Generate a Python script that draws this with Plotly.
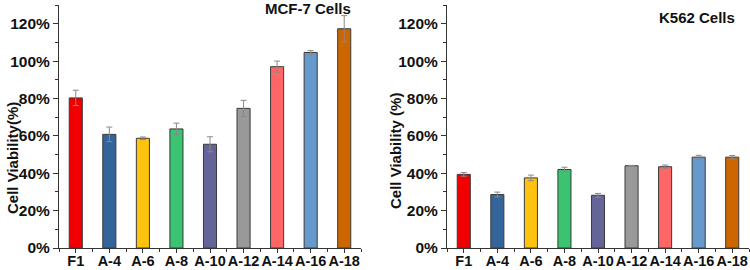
import plotly.graph_objects as go

categories = ["F1", "A-4", "A-6", "A-8", "A-10", "A-12", "A-14", "A-16", "A-18"]
mcf7_values = [80.3, 60.8, 58.7, 63.7, 55.5, 74.7, 97.0, 104.6, 117.3]
mcf7_errors = [4.1, 3.9, 0.7, 3.1, 4.0, 4.3, 3.0, 1.0, 7.0]
k562_values = [39.4, 28.6, 37.5, 42.0, 28.2, 44.0, 43.5, 48.6, 48.6]
k562_errors = [1.0, 1.3, 1.5, 1.2, 1.0, 0.2, 0.9, 1.0, 0.9]
bar_colors = ["#F00000", "#33659A", "#FFC20F", "#3CC372", "#646499",
              "#999999", "#FF6666", "#6699CC", "#CC6600"]
y_ticks = [0, 20, 40, 60, 80, 100, 120]

W, H = 750, 270
FONT = "Arial, Liberation Sans, sans-serif"
xpos = list(range(len(categories)))

fig = go.Figure()
for vals, errs, xa, ya in [(mcf7_values, mcf7_errors, "x", "y"),
                           (k562_values, k562_errors, "x2", "y2")]:
    fig.add_trace(go.Bar(
        x=xpos, y=vals, width=0.39,
        marker=dict(color=bar_colors, line=dict(color="#3a3a3a", width=1)),
        error_y=dict(type="data", array=errs, visible=True,
                     color="#8a8a8a", thickness=1, width=3),
        xaxis=xa, yaxis=ya, showlegend=False,
    ))

ydom = [(H - 248) / H, (H - 5) / H]
common_x = dict(
    range=[-0.5, len(categories) - 0.5],
    tickmode="array", tickvals=xpos,
    ticktext=[f"<b>{c}</b>" for c in categories],
    tickangle=0, automargin=False, ticklabelstandoff=-4,
    ticks="outside", ticklen=4, tickwidth=1, tickcolor="#333",
    showline=True, linecolor="#333", linewidth=1,
    showgrid=False, zeroline=False,
    tickfont=dict(family=FONT, size=14.5, color="#111"),
    minor=dict(tickmode="linear", tick0=-0.5, dtick=1, ticks="outside",
               ticklen=3, tickcolor="#333"),
)
common_y = dict(
    range=[0, 130], domain=ydom, automargin=False,
    tickmode="array", tickvals=y_ticks,
    ticktext=[f"<b>{v}%</b>" for v in y_ticks],
    ticks="outside", ticklen=5, tickwidth=1, tickcolor="#333",
    showline=True, linecolor="#333", linewidth=1,
    showgrid=False, zeroline=False,
    tickfont=dict(family=FONT, size=15.5, color="#111"),
    minor=dict(tickmode="linear", tick0=0, dtick=10, ticks="outside",
               ticklen=3, tickcolor="#333"),
)

fig.update_layout(
    width=W, height=H,
    margin=dict(l=0, r=0, t=0, b=0),
    plot_bgcolor="white", paper_bgcolor="white",
    xaxis=dict(domain=[59 / W, 361 / W], anchor="y", **common_x),
    yaxis=dict(anchor="x", **common_y),
    xaxis2=dict(domain=[447 / W, 749 / W], anchor="y2", **common_x),
    yaxis2=dict(anchor="x2", **common_y),
)

annots = [
    ("<b>MCF-7 Cells</b>", 308, 9, 0),
    ("<b>K562 Cells</b>", 697, 17, 0),
    ("<b>Cell Viability(%)</b>", 12, 158, -90),
    ("<b>Cell Viability (%)</b>", 395, 151, -90),
]
for text, px, py, ang in annots:
    fig.add_annotation(
        text=text, x=px / W, y=1 - py / H, xref="paper", yref="paper",
        xanchor="center", yanchor="middle", showarrow=False, textangle=ang,
        font=dict(family=FONT, size=15, color="#111"),
    )

fig.write_html(
    "out.html",
    config={"displayModeBar": False},
    post_script="document.body.style.margin='0';document.body.style.overflow='hidden';",
)
